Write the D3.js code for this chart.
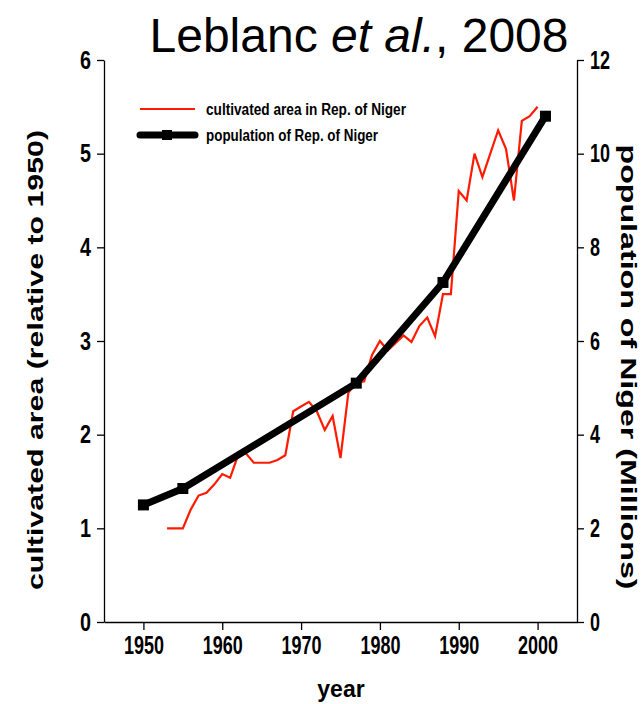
<!DOCTYPE html>
<html>
<head>
<meta charset="utf-8">
<style>
body { margin: 0; background: #fff; }
svg { display: block; }
.axis text { font-family: "Liberation Sans", Arial, sans-serif; font-weight: bold; fill: #000; }
.axis path, .axis line { stroke: #000; stroke-width: 1.3; }
.lbl { font-family: "Liberation Sans", Arial, sans-serif; font-weight: bold; fill: #000; }
.leg { font-family: "Liberation Sans", Arial, sans-serif; font-weight: bold; font-size: 16px; fill: #000; }
</style>
</head>
<body>
<svg id="chart" width="641" height="704"></svg>
<script src="https://cdn.jsdelivr.net/npm/d3@7"></script>
<script>

// cultivated area in Rep. of Niger (relative to 1950)
var areaYears = [1953, 1954, 1955, 1956, 1957, 1958, 1959, 1960, 1961, 1962,
  1963, 1964, 1965, 1966, 1967, 1968, 1969, 1970, 1971, 1972,
  1973, 1974, 1975, 1976, 1977, 1978, 1979, 1980, 1981, 1982,
  1983, 1984, 1985, 1986, 1987, 1988, 1989, 1990, 1991, 1992,
  1993, 1994, 1995, 1996, 1997, 1998, 1999, 2000];
var areaValues = [1.0, 1.0, 1.0, 1.2, 1.35, 1.38, 1.47, 1.58, 1.54, 1.78,
  1.8, 1.7, 1.7, 1.7, 1.73, 1.78, 2.25, 2.3, 2.35, 2.25,
  2.05, 2.2, 1.75, 2.45, 2.55, 2.57, 2.85, 3.0, 2.9, 2.98,
  3.06, 2.99, 3.16, 3.25, 3.05, 3.5, 3.5, 4.6, 4.5, 5.0,
  4.75, 5.0, 5.25, 5.05, 4.5, 5.35, 5.4, 5.5];

// population of Rep. of Niger (millions)
var popYears = [1950, 1955, 1977, 1988, 2001];
var popValues = [2.5, 2.85, 5.1, 7.25, 10.8];

var xTicks = [1950, 1960, 1970, 1980, 1990, 2000];
var leftTicks = [0, 1, 2, 3, 4, 5, 6];
var rightTicks = [0, 2, 4, 6, 8, 10, 12];

var svg = d3.select("#chart");

var x = d3.scaleLinear().domain([1945, 2005]).range([104, 577]);
var yL = d3.scaleLinear().domain([0, 6]).range([622, 60]);
var yR = d3.scaleLinear().domain([0, 12]).range([622, 60]);

// narrow digits like the original figure
function squeeze(sel, perChar) {
  sel.selectAll("text")
    .attr("textLength", function() { return this.textContent.length * perChar; })
    .attr("lengthAdjust", "spacingAndGlyphs");
}

// axes
var gx = svg.append("g")
  .attr("class", "axis")
  .attr("transform", "translate(0,622)")
  .call(d3.axisBottom(x).tickValues(xTicks).tickFormat(d3.format("d")).tickSize(8).tickSizeOuter(0).tickPadding(6));
gx.selectAll("text").style("font-size", "26px");
squeeze(gx, 10);

var gl = svg.append("g")
  .attr("class", "axis")
  .attr("transform", "translate(104,0)")
  .call(d3.axisLeft(yL).tickValues(leftTicks).tickFormat(d3.format("d")).tickSize(7).tickSizeOuter(0).tickPadding(6));
gl.selectAll("text").style("font-size", "26px");
squeeze(gl, 11);

var gr = svg.append("g")
  .attr("class", "axis")
  .attr("transform", "translate(577,0)")
  .call(d3.axisRight(yR).tickValues(rightTicks).tickFormat(d3.format("d")).tickSize(7).tickSizeOuter(0).tickPadding(6));
gr.selectAll("text").style("font-size", "26px");
squeeze(gr, 10);

// cultivated area line
var area = areaYears.map(function(d, i) { return { year: d, value: areaValues[i] }; });
var pop = popYears.map(function(d, i) { return { year: d, value: popValues[i] }; });

svg.append("path")
  .datum(area)
  .attr("fill", "none")
  .attr("stroke", "#ff1a00")
  .attr("stroke-width", 2.2)
  .attr("d", d3.line().x(function(d) { return x(d.year); }).y(function(d) { return yL(d.value); }));

// population line
svg.append("path")
  .datum(pop)
  .attr("fill", "none")
  .attr("stroke", "#000")
  .attr("stroke-width", 7)
  .attr("d", d3.line().x(function(d) { return x(d.year); }).y(function(d) { return yR(d.value); }));

svg.selectAll(".pt")
  .data(pop)
  .enter().append("rect")
  .attr("class", "pt")
  .attr("x", function(d) { return x(d.year) - 5.5; })
  .attr("y", function(d) { return yR(d.value) - 5.5; })
  .attr("width", 11)
  .attr("height", 11)
  .attr("fill", "#000");

// legend
var leg = svg.append("g");
leg.append("line").attr("x1", 140).attr("x2", 195).attr("y1", 109).attr("y2", 109)
  .attr("stroke", "#ff1a00").attr("stroke-width", 2.2);
leg.append("text").attr("class", "leg").attr("x", 206).attr("y", 115)
  .attr("textLength", 200).attr("lengthAdjust", "spacingAndGlyphs")
  .text("cultivated area in Rep. of Niger");
leg.append("line").attr("x1", 140).attr("x2", 195).attr("y1", 135).attr("y2", 135)
  .attr("stroke", "#000").attr("stroke-width", 7).attr("stroke-linecap", "round");
leg.append("rect").attr("x", 162).attr("y", 130).attr("width", 10).attr("height", 10).attr("fill", "#000");
leg.append("text").attr("class", "leg").attr("x", 206).attr("y", 141)
  .attr("textLength", 172).attr("lengthAdjust", "spacingAndGlyphs")
  .text("population of Rep. of Niger");

// axis titles
svg.append("text")
  .attr("class", "lbl")
  .attr("transform", "translate(43,360) rotate(-90)")
  .attr("text-anchor", "middle")
  .attr("textLength", 460)
  .attr("lengthAdjust", "spacingAndGlyphs")
  .style("font-size", "22px")
  .text("cultivated area (relative to 1950)");

svg.append("text")
  .attr("class", "lbl")
  .attr("transform", "translate(621,367) rotate(90)")
  .attr("text-anchor", "middle")
  .attr("textLength", 445)
  .attr("lengthAdjust", "spacingAndGlyphs")
  .style("font-size", "22px")
  .text("population of Niger (Millions)");

svg.append("text")
  .attr("class", "lbl")
  .attr("x", 341)
  .attr("y", 697)
  .attr("text-anchor", "middle")
  .style("font-size", "23px")
  .text("year");

// title
var title = svg.append("text")
  .attr("x", 359)
  .attr("y", 52)
  .attr("text-anchor", "middle")
  .style("font-family", "\"Liberation Sans\", Arial, sans-serif")
  .style("font-size", "48px")
  .attr("fill", "#000");
title.append("tspan").text("Leblanc ");
title.append("tspan").style("font-style", "italic").text("et al.");
title.append("tspan").text(", 2008");

</script>
</body>
</html>
